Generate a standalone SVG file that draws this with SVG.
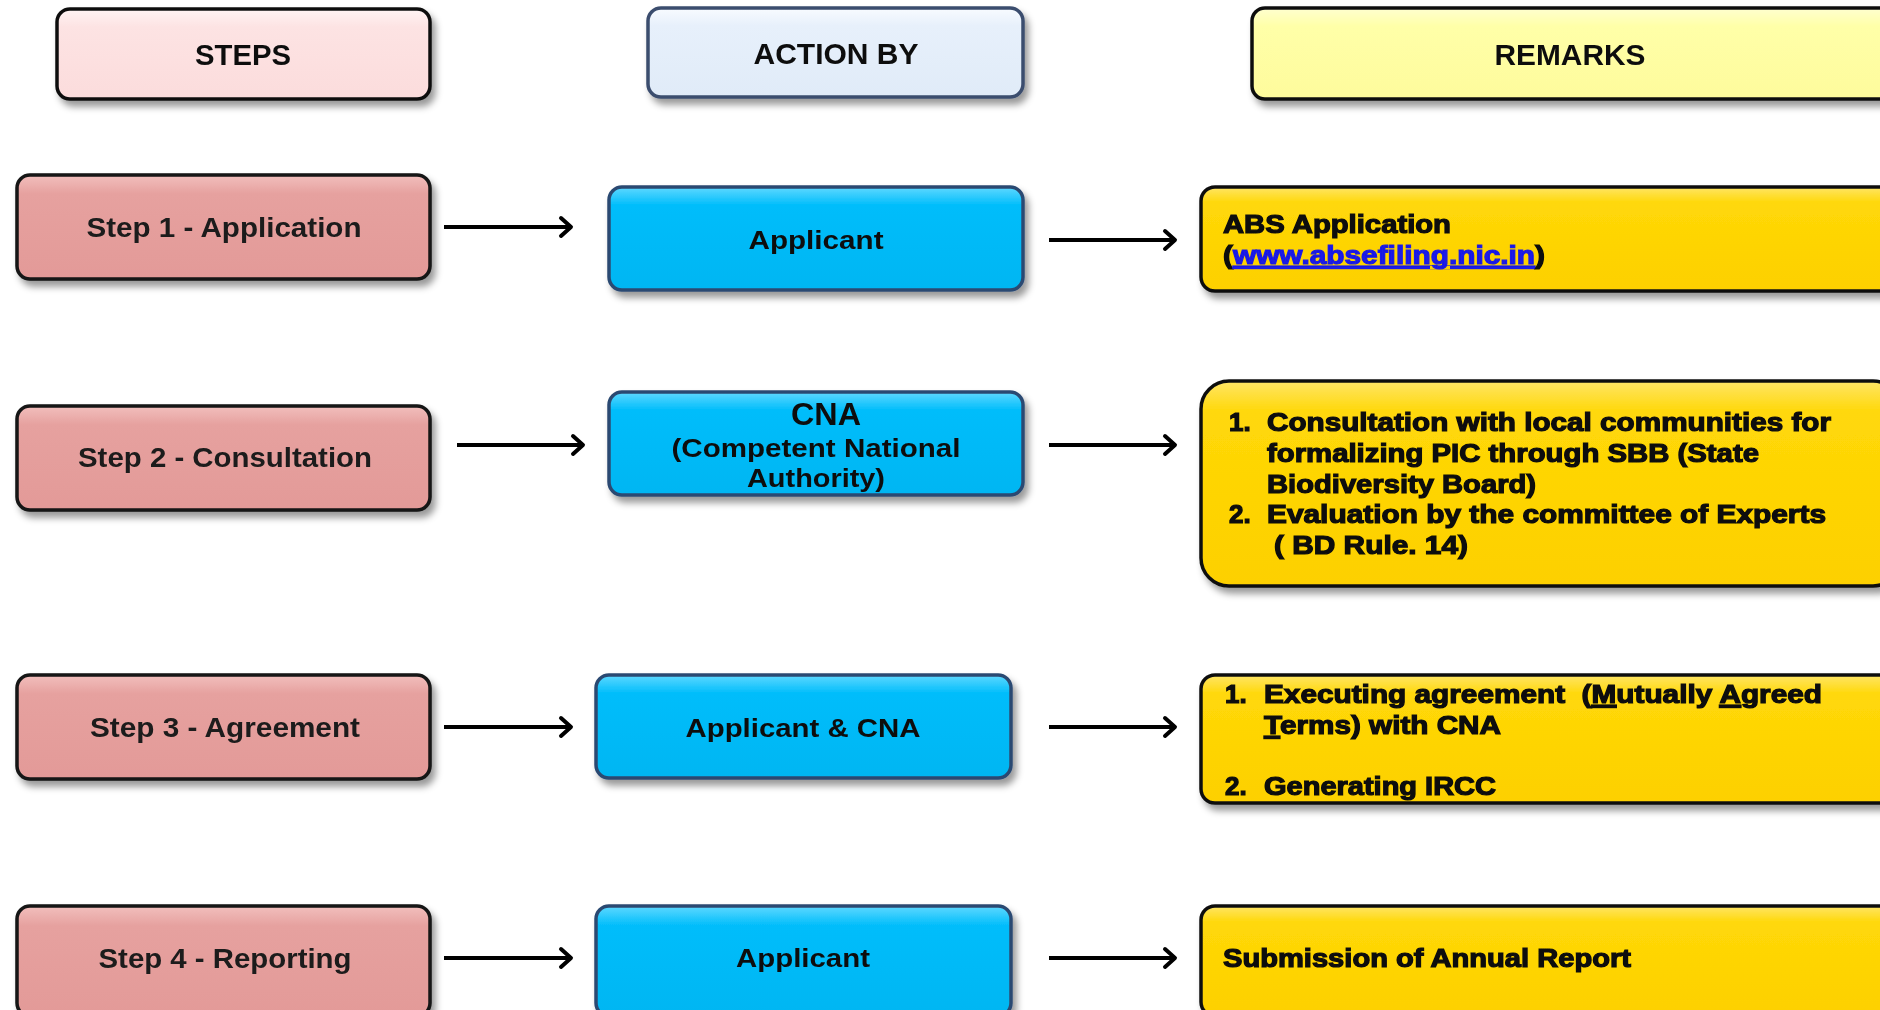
<svg xmlns="http://www.w3.org/2000/svg" width="1880" height="1010" viewBox="0 0 1880 1010">
<style>
.hdr{font-family:"Liberation Sans",Arial,sans-serif;font-weight:bold;font-size:30px;fill:#111;text-anchor:middle}
.stp{font-family:"Liberation Sans",Arial,sans-serif;font-weight:bold;font-size:28px;fill:#1a1a1a;text-anchor:middle}
.act{font-family:"Liberation Sans",Arial,sans-serif;font-weight:bold;font-size:26px;fill:#0d0d0d;text-anchor:middle}
.rem{font-family:"Liberation Sans",Arial,sans-serif;font-weight:bold;font-size:26px;fill:#0a0a0a;stroke:#0a0a0a;stroke-width:1.2}
.lnk{fill:#1a1ae6;stroke:#1a1ae6;text-decoration:underline}
.u{text-decoration:underline}
.conn line{stroke:#000;stroke-width:4;marker-end:url(#ah)}
.bStepH{fill:url(#gPinkH);stroke:#111;stroke-width:3.5}
.bActH{fill:url(#gBlueH);stroke:#3b4d6e;stroke-width:3.5}
.bRemH{fill:url(#gYelH);stroke:#111;stroke-width:3.5}
.bStep{fill:url(#gPink);stroke:#151515;stroke-width:3.5}
.bAct{fill:url(#gBlue);stroke:#2c4a72;stroke-width:3.5}
.bRem{fill:url(#gGold);stroke:#111;stroke-width:3.5}
</style>
<defs>
<filter id="sh" x="-10%" y="-20%" width="125%" height="150%">
<feDropShadow dx="4" dy="6" stdDeviation="3.5" flood-color="#000" flood-opacity="0.4"/>
</filter>
<linearGradient id="gPinkH" x1="0" y1="0" x2="0" y2="1"><stop offset="0" stop-color="#fff4f4"/><stop offset="0.2" stop-color="#fde3e3"/><stop offset="1" stop-color="#fbdcdc"/></linearGradient>
<linearGradient id="gBlueH" x1="0" y1="0" x2="0" y2="1"><stop offset="0" stop-color="#f8fbff"/><stop offset="0.2" stop-color="#e7f0fb"/><stop offset="1" stop-color="#e0ebf8"/></linearGradient>
<linearGradient id="gYelH" x1="0" y1="0" x2="0" y2="1"><stop offset="0" stop-color="#ffffd0"/><stop offset="0.2" stop-color="#ffffa8"/><stop offset="1" stop-color="#fefb9c"/></linearGradient>
<linearGradient id="gPink" x1="0" y1="0" x2="0" y2="1"><stop offset="0" stop-color="#f2bfbd"/><stop offset="0.18" stop-color="#e6a19f"/><stop offset="1" stop-color="#e39a98"/></linearGradient>
<linearGradient id="gBlue" x1="0" y1="0" x2="0" y2="1"><stop offset="0" stop-color="#5fd8ff"/><stop offset="0.18" stop-color="#00bdfb"/><stop offset="1" stop-color="#00b6f2"/></linearGradient>
<linearGradient id="gGold" x1="0" y1="0" x2="0" y2="1"><stop offset="0" stop-color="#ffe566"/><stop offset="0.15" stop-color="#ffd808"/><stop offset="1" stop-color="#fdd000"/></linearGradient>
<marker id="ah" markerUnits="userSpaceOnUse" markerWidth="20" markerHeight="24" refX="14" refY="12" orient="auto">
<path d="M4,3 L14,12 L4,21" fill="none" stroke="#000" stroke-width="4" stroke-linecap="round" stroke-linejoin="round"/>
</marker>
</defs>

<g id="hdr-steps" filter="url(#sh)"><rect class="bStepH" x="57" y="9" width="373" height="90" rx="13"/><text class="hdr" x="243" y="65" textLength="96" lengthAdjust="spacingAndGlyphs">STEPS</text></g>
<g id="hdr-action" filter="url(#sh)"><rect class="bActH" x="648" y="8" width="375" height="89" rx="13"/><text class="hdr" x="836" y="64" textLength="165" lengthAdjust="spacingAndGlyphs">ACTION BY</text></g>
<g id="hdr-remarks" filter="url(#sh)"><rect class="bRemH" x="1252" y="8" width="645" height="91" rx="13"/><text class="hdr" x="1570" y="65" textLength="151" lengthAdjust="spacingAndGlyphs">REMARKS</text></g>

<g id="step1" filter="url(#sh)"><rect class="bStep" x="17" y="175" width="413" height="104" rx="13"/><text class="stp" x="224" y="237" textLength="275" lengthAdjust="spacingAndGlyphs">Step 1 - Application</text></g>
<g id="step2" filter="url(#sh)"><rect class="bStep" x="17" y="406" width="413" height="104" rx="13"/><text class="stp" x="225" y="467" textLength="294" lengthAdjust="spacingAndGlyphs">Step 2 - Consultation</text></g>
<g id="step3" filter="url(#sh)"><rect class="bStep" x="17" y="675" width="413" height="104" rx="13"/><text class="stp" x="225" y="737" textLength="270" lengthAdjust="spacingAndGlyphs">Step 3 - Agreement</text></g>
<g id="step4" filter="url(#sh)"><rect class="bStep" x="17" y="906" width="413" height="110" rx="13"/><text class="stp" x="225" y="968" textLength="253" lengthAdjust="spacingAndGlyphs">Step 4 - Reporting</text></g>

<g id="act1" filter="url(#sh)"><rect class="bAct" x="609" y="187" width="414" height="103" rx="13"/><text class="act" x="816" y="249" textLength="135" lengthAdjust="spacingAndGlyphs">Applicant</text></g>
<g id="act2" filter="url(#sh)"><rect class="bAct" x="609" y="392" width="414" height="103" rx="13"/>
<text class="act" x="826" y="425" style="font-size:31px" textLength="70" lengthAdjust="spacingAndGlyphs">CNA</text>
<text class="act" x="816" y="457" textLength="289" lengthAdjust="spacingAndGlyphs">(Competent National</text>
<text class="act" x="816" y="487" textLength="138" lengthAdjust="spacingAndGlyphs">Authority)</text></g>
<g id="act3" filter="url(#sh)"><rect class="bAct" x="596" y="675" width="415" height="103" rx="13"/><text class="act" x="803" y="737" textLength="235" lengthAdjust="spacingAndGlyphs">Applicant &amp; CNA</text></g>
<g id="act4" filter="url(#sh)"><rect class="bAct" x="596" y="906" width="415" height="110" rx="13"/><text class="act" x="803" y="967" textLength="134" lengthAdjust="spacingAndGlyphs">Applicant</text></g>

<g id="rem1" filter="url(#sh)"><rect class="bRem" x="1201" y="187" width="700" height="104" rx="14"/>
<text class="rem" x="1223" y="233" textLength="228" lengthAdjust="spacingAndGlyphs">ABS Application</text>
<text class="rem" x="1223" y="264" textLength="322" lengthAdjust="spacingAndGlyphs">(<tspan class="lnk">www.absefiling.nic.in</tspan>)</text></g>
<g id="rem2" filter="url(#sh)"><rect class="bRem" x="1201" y="381" width="700" height="205" rx="28"/>
<text class="rem" x="1229" y="431">1.</text>
<text class="rem" x="1267" y="431" textLength="564" lengthAdjust="spacingAndGlyphs">Consultation with local communities for</text>
<text class="rem" x="1267" y="462" textLength="492" lengthAdjust="spacingAndGlyphs">formalizing PIC through SBB (State</text>
<text class="rem" x="1267" y="493" textLength="269" lengthAdjust="spacingAndGlyphs">Biodiversity Board)</text>
<text class="rem" x="1229" y="523">2.</text>
<text class="rem" x="1267" y="523" textLength="559" lengthAdjust="spacingAndGlyphs">Evaluation by the committee of Experts</text>
<text class="rem" x="1274" y="554" textLength="194" lengthAdjust="spacingAndGlyphs">( BD Rule. 14)</text></g>
<g id="rem3" filter="url(#sh)"><rect class="bRem" x="1201" y="675" width="700" height="128" rx="14"/>
<text class="rem" x="1225" y="703">1.</text>
<text class="rem" x="1264" y="703" textLength="558" lengthAdjust="spacingAndGlyphs">Executing agreement&#160; (<tspan class="u">M</tspan>utually <tspan class="u">A</tspan>greed</text>
<text class="rem" x="1264" y="734" textLength="237" lengthAdjust="spacingAndGlyphs"><tspan class="u">T</tspan>erms) with CNA</text>
<text class="rem" x="1225" y="795">2.</text>
<text class="rem" x="1264" y="795" textLength="232" lengthAdjust="spacingAndGlyphs">Generating IRCC</text></g>
<g id="rem4" filter="url(#sh)"><rect class="bRem" x="1201" y="906" width="700" height="110" rx="14"/>
<text class="rem" x="1223" y="967" textLength="408" lengthAdjust="spacingAndGlyphs">Submission of Annual Report</text></g>

<g id="connectors" class="conn">
<line x1="444" y1="227" x2="571" y2="227"/>
<line x1="1049" y1="240" x2="1175" y2="240"/>
<line x1="457" y1="445" x2="583" y2="445"/>
<line x1="1049" y1="445" x2="1175" y2="445"/>
<line x1="444" y1="727" x2="571" y2="727"/>
<line x1="1049" y1="727" x2="1175" y2="727"/>
<line x1="444" y1="958" x2="571" y2="958"/>
<line x1="1049" y1="958" x2="1175" y2="958"/>
</g>
</svg>
